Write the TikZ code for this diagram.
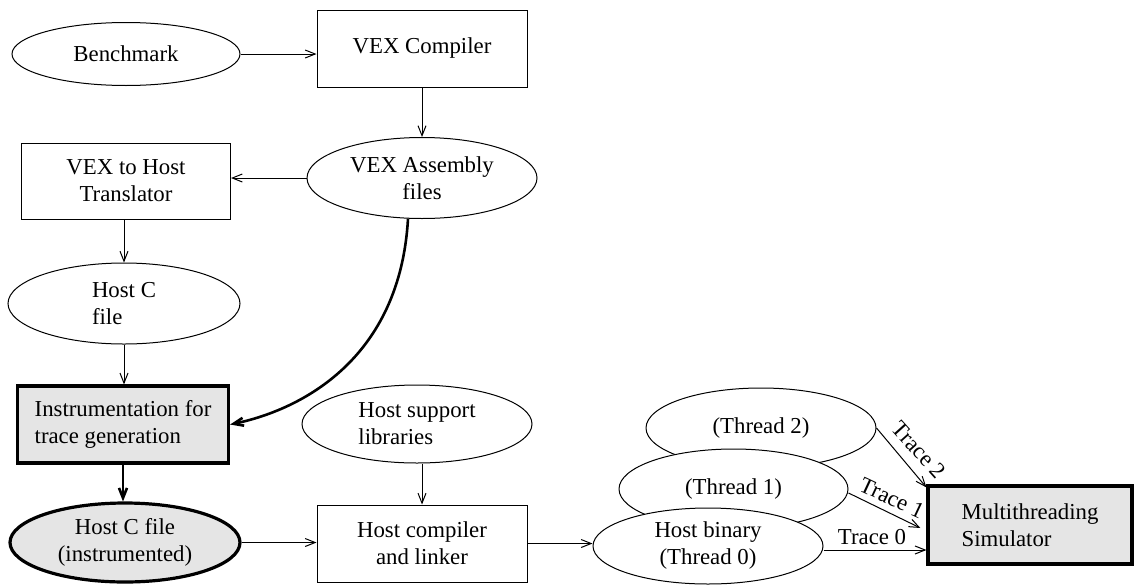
\documentclass[tikz,border=0pt]{standalone}
\usepackage{fontspec}
\setmainfont{Liberation Serif}
\usetikzlibrary{shapes.geometric,arrows.meta}
\begin{document}
\begin{tikzpicture}[x=0.5pt,y=-0.5pt,
 font=\fontsize{11.4}{13.5}\selectfont,
 ell/.style={ellipse,draw,line width=0.5pt,inner sep=0pt,align=center,fill=white},
 box/.style={rectangle,draw,line width=0.5pt,inner sep=0pt,align=center},
 hl/.style={line width=1.6pt,fill=black!10},
 arr/.style={-{Straight Barb[length=5pt,width=4pt]},line width=0.5pt},
 tarr/.style={-{Straight Barb[length=5pt,width=4pt]},line width=1.3pt},
 lbl/.style={inner sep=0pt},
]
\useasboundingbox (0,0) rectangle (1134,584);

\node[ell,minimum width=114pt,minimum height=31.5pt] (bench) at (126,54) {Benchmark};
\node[box,minimum width=105pt,minimum height=38.5pt] (vexc) at (422,48.5) {VEX Compiler};
\node[ell,minimum width=115pt,minimum height=40.5pt] (vexa) at (422,178) {VEX Assembly\\files};
\node[box,minimum width=104.5pt,minimum height=38pt] (trans) at (126,181) {VEX to Host\\Translator};
\node[ell,minimum width=116pt,minimum height=40.5pt,align=left] (hostc) at (124,303.5) {Host C\\file};
\node[box,hl,minimum width=105.5pt,minimum height=38.5pt,align=left] (instr) at (123,424.5) {Instrumentation for\\trace generation};
\node[ell,hl,minimum width=115pt,minimum height=39.5pt] (hci) at (125,542.5) {Host C file\\(instrumented)};
\node[ell,minimum width=115pt,minimum height=39pt,align=left] (hsl) at (417,424) {Host support\\libraries};
\node[box,minimum width=105pt,minimum height=38.5pt] (hcl) at (422,543.5) {Host compiler\\and linker};
\node[ell,minimum width=115pt,minimum height=40pt] (t2) at (761,428) {(Thread 2)};
\node[ell,minimum width=114.5pt,minimum height=40pt] (t1) at (733.5,489) {(Thread 1)};
\node[ell,minimum width=115pt,minimum height=38pt] (hb) at (708,546) {Host binary\\(Thread 0)};
\node[box,hl,minimum width=102pt,minimum height=39pt,align=left] (sim) at (1030,525) {Multithreading\\Simulator};

\draw[arr] (bench.east) -- (bench.east -| vexc.west);
\draw[arr] (vexc) -- (vexa);
\draw[arr] (vexa.west) -- (vexa.west -| trans.east);
\draw[arr] (trans.south -| hostc.north) -- (hostc.north);
\draw[arr] (hostc.south) -- (hostc.south |- instr.north);
\draw[tarr] (instr.south) -- (instr.south |- hci.north);
\draw[tarr] (vexa.-109) .. controls (400,360) and (300,410) .. (instr.east);
\draw[arr] (hci.east) -- (hci.east -| hcl.west);
\draw[arr] (hsl.south -| hcl.north) -- (hcl.north);
\draw[arr] (hcl.east) -- (hcl.east -| hb.west);
\draw[arr] ([yshift=-2pt]hb.east) -- ([yshift=-2pt]hb.east -| sim.west);
\draw[arr] ([yshift=-2pt]t1.east) -- ([xshift=-3pt,yshift=-1.5pt]sim.west);
\draw[arr] (t2.east) -- ([yshift=-1.5pt]sim.north west);
\node[lbl] (l0) at (872,537) {Trace 0};
\node[lbl,rotate=-25] (l1) at (892,498) {Trace 1};
\node[lbl,rotate=-48] (l2) at (919,450) {Trace 2};
\end{tikzpicture}
\end{document}
